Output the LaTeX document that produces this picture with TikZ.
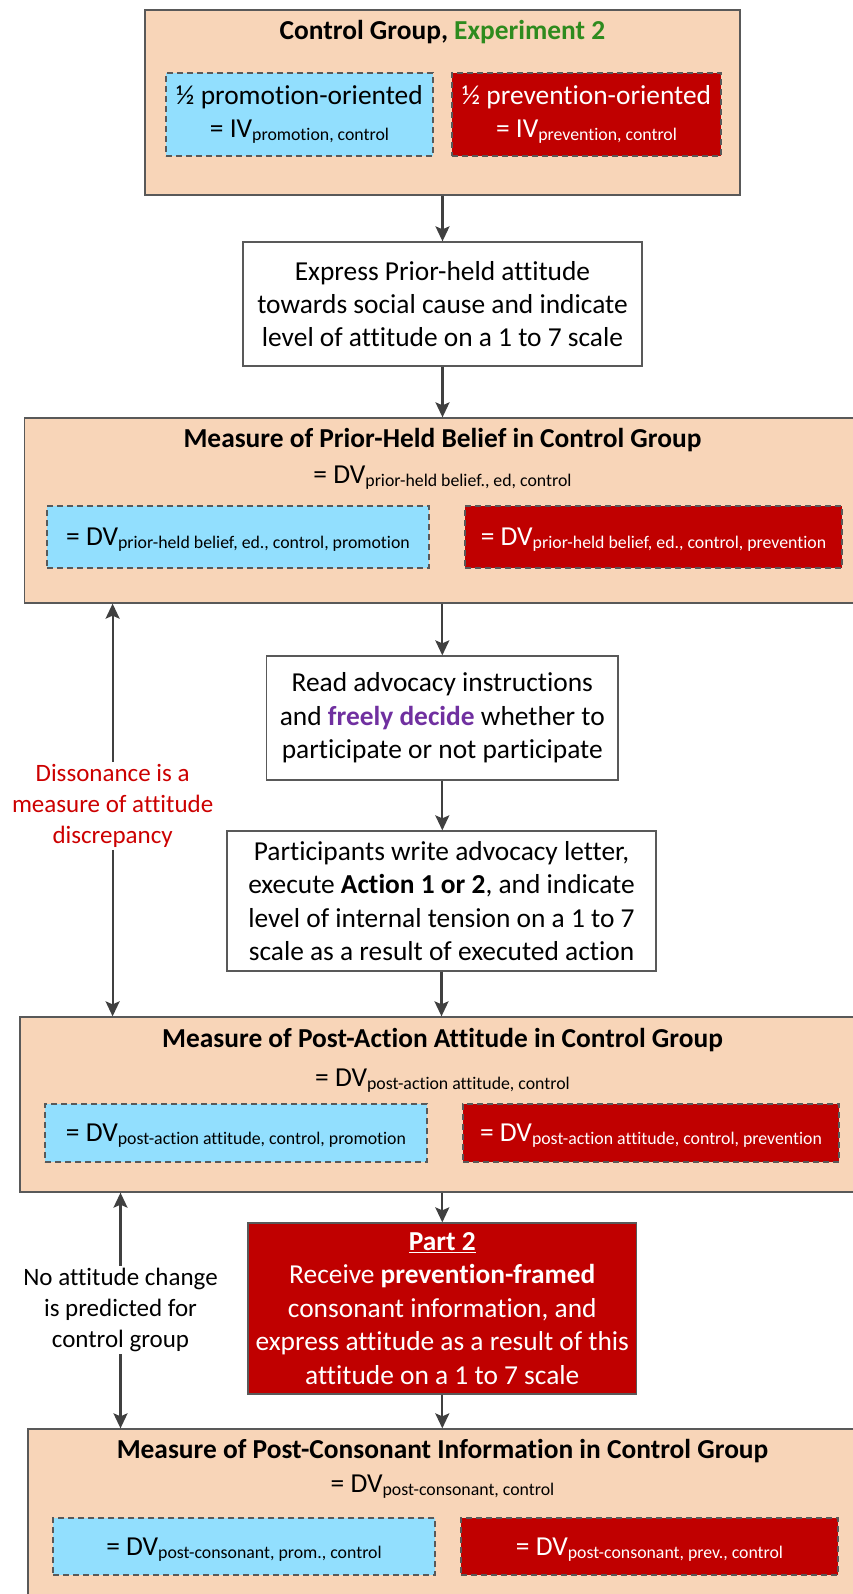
\documentclass[tikz,border=0pt]{standalone}
\usepackage{fontspec}
\setmainfont{Carlito}[Ligatures=NoCommon]
\usetikzlibrary{arrows.meta}

\definecolor{peach}{HTML}{F8D5B8}
\definecolor{skyb}{HTML}{92DFFE}
\definecolor{darkred}{HTML}{C00000}
\definecolor{edge}{HTML}{595959}
\definecolor{arrowc}{HTML}{404040}
\definecolor{expgreen}{HTML}{2E8B1E}
\definecolor{freelyc}{HTML}{7030A0}
\definecolor{notered}{HTML}{CC0000}

\newcommand\bodyfont{\fontsize{27.4}{33.4}\selectfont}
\newcommand\labfont{\fontsize{25}{31}\selectfont}
\newcommand\dvsub[1]{\raisebox{-3pt}{\fontsize{17.8}{20}\selectfont #1}}

\begin{document}
\begin{tikzpicture}[x=1pt,y=-1pt,
  groupbox/.style={draw=edge, line width=1.3pt, fill=peach, inner sep=0pt},
  stepbox/.style={draw=edge, line width=1.3pt, fill=white, align=center, inner sep=0pt, font=\bodyfont},
  promobox/.style={draw=edge, dash pattern=on 6pt off 4pt, line width=1.3pt, fill=skyb,
    inner sep=0pt, align=center, font=\bodyfont},
  prevbox/.style={promobox, fill=darkred, text=white},
  onerow/.style={text height=17.6pt, text depth=0pt},
  partbox/.style={draw=edge, line width=1.3pt, fill=darkred, text=white, align=center,
    inner sep=0pt, font=\bodyfont},
  heading/.style={anchor=base, font=\bodyfont\bfseries, inner sep=0pt},
  dvline/.style={anchor=base, font=\bodyfont, inner sep=0pt},
  note/.style={align=center, font=\labfont, inner xsep=0pt, inner ysep=2pt},
  flow/.style={draw=arrowc, line width=2.2pt, -{Stealth[length=15pt,width=14pt,inset=3pt]}}
]
\useasboundingbox (0,0) rectangle (853,1594);
\clip (0,0) rectangle (853,1594);

% Control group and its two halves
\node[groupbox, minimum width=595pt, minimum height=185pt] (top) at (442.5,102.5) {};
\node[heading] (topT) at (442.5,40) {Control Group, \textcolor{expgreen}{Experiment 2}};
\node[promobox, minimum width=267pt, minimum height=83pt] (ivpro) at (299.5,114.5)
  {½ promotion-oriented\\= IV\dvsub{promotion, control}};
\node[prevbox, minimum width=269pt, minimum height=83pt] (ivprev) at (586.5,114.5)
  {½ prevention-oriented\\= IV\dvsub{prevention, control}};

% Prior-held attitude
\node[stepbox, minimum width=399pt, minimum height=124pt] (attitude) at (442.5,304)
  {Express Prior-held attitude\\towards social cause and indicate\\level of attitude on a 1 to 7 scale};

\node[groupbox, minimum width=836pt, minimum height=185pt] (prior) at (442.5,510.5) {};
\node[heading] (priorT) at (442.5,447) {Measure of Prior-Held Belief in Control Group};
\node[dvline] (priorDV) at (442.5,483) {= DV\dvsub{prior-held belief., ed, control}};
\node[promobox, onerow, minimum width=382pt, minimum height=62pt] (priorpro) at (238,537)
  {= DV\dvsub{prior-held belief, ed., control, promotion}};
\node[prevbox, onerow, minimum width=377pt, minimum height=62pt] (priorprev) at (653.5,537)
  {= DV\dvsub{prior-held belief, ed., control, prevention}};

% Decision and action
\node[stepbox, minimum width=351.5pt, minimum height=124pt] (read) at (442.3,718)
  {Read advocacy instructions\\and \textcolor{freelyc}{\textbf{freely decide}} whether to\\participate or not participate};
\node[stepbox, minimum width=429pt, minimum height=140pt] (action) at (441.5,901)
  {Participants write advocacy letter,\\execute \textbf{Action 1 or 2}, and indicate\\level of internal tension on a 1 to 7\\scale as a result of executed action};

% Post-action attitude
\node[groupbox, minimum width=845pt, minimum height=175pt] (postact) at (442.5,1104.5) {};
\node[heading] (postactT) at (442.5,1047) {Measure of Post-Action Attitude in Control Group};
\node[dvline] (postactDV) at (442.5,1086) {= DV\dvsub{post-action attitude, control}};
\node[promobox, onerow, minimum width=382pt, minimum height=58pt] (postactpro) at (236,1133)
  {= DV\dvsub{post-action attitude, control, promotion}};
\node[prevbox, onerow, minimum width=376pt, minimum height=58pt] (postactprev) at (651,1133)
  {= DV\dvsub{post-action attitude, control, prevention}};

% Part 2
\node[partbox, minimum width=388.6pt, minimum height=171pt] (part) at (442.3,1308.5)
  {\underline{\textbf{Part 2}}\\Receive \textbf{prevention-framed}\\consonant information, and\\express attitude as a result of this\\attitude on a 1 to 7 scale};

% Post-consonant information
\node[groupbox, minimum width=829pt, minimum height=200pt] (consonant) at (442.5,1529) {};
\node[heading] (consonantT) at (442.5,1458) {Measure of Post-Consonant Information in Control Group};
\node[dvline] (consonantDV) at (442.5,1492) {= DV\dvsub{post-consonant, control}};
\node[promobox, onerow, minimum width=382pt, minimum height=57pt] (conspro) at (244,1546.5)
  {= DV\dvsub{post-consonant, prom., control}};
\node[prevbox, onerow, minimum width=377pt, minimum height=57pt] (consprev) at (649.5,1546.5)
  {= DV\dvsub{post-consonant, prev., control}};

% Side notes
\node[note, text=notered] (dissonance) at (112.6,806)
  {Dissonance is a\\measure of attitude\\discrepancy};
\node[note] (nochange) at (120.5,1310)
  {No attitude change\\is predicted for\\control group};

% Main flow
\draw[flow] (top.south) -- (attitude.north);
\draw[flow] (attitude.south) -- (prior.north);
\draw[flow] (read.north |- prior.south) -- (read.north);
\draw[flow] (read.south) -- (action.north -| read.south);
\draw[flow] (action.south) -- (action.south |- postact.north);
\draw[flow] (part.north |- postact.south) -- (part.north);
\draw[flow] (part.south) -- (part.south |- consonant.north);

% Side arrows
\draw[flow] (dissonance.north) -- (dissonance.north |- prior.south);
\draw[flow] (dissonance.south) -- (dissonance.south |- postact.north);
\draw[flow] (nochange.north) -- (nochange.north |- postact.south);
\draw[flow] (nochange.south) -- (nochange.south |- consonant.north);
\end{tikzpicture}
\end{document}
